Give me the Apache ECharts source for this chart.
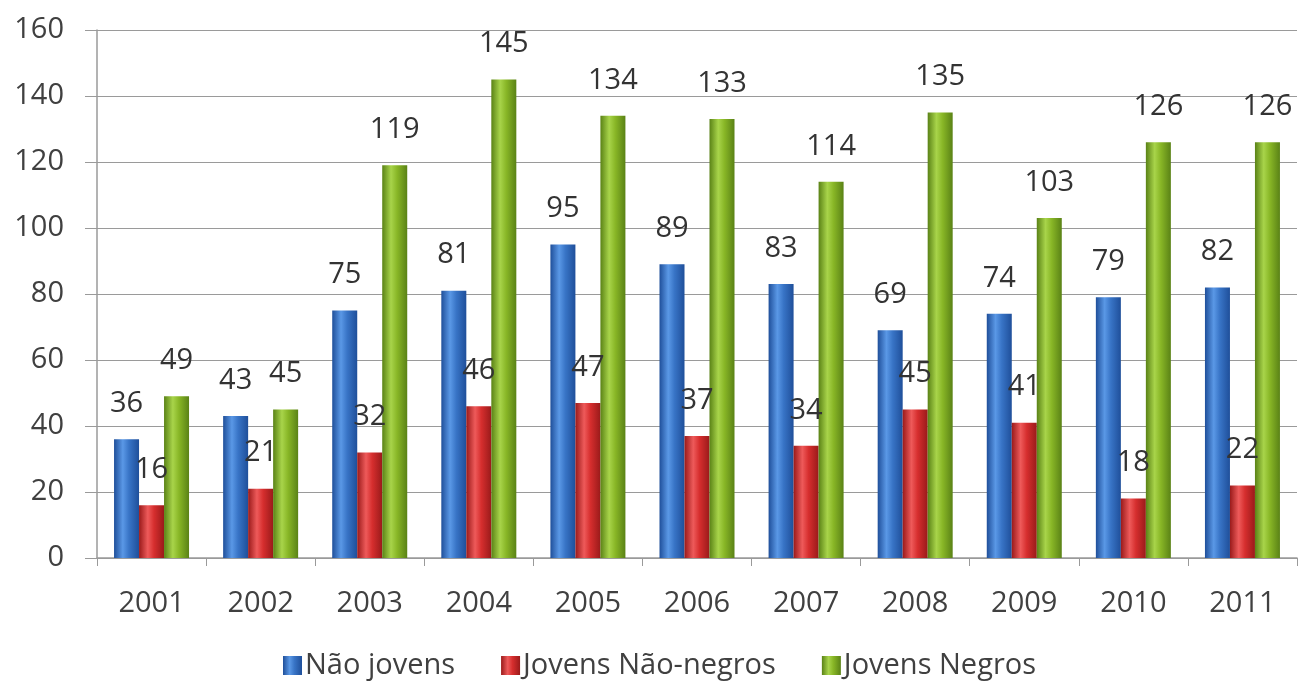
<!DOCTYPE html>
<html><head><meta charset="utf-8">
<script src="https://cdn.jsdelivr.net/npm/echarts@6/dist/echarts.min.js"></script>
<style>html,body{margin:0;padding:0;background:#fff}#c{width:1301px;height:687px}</style>
</head><body><div id="c"></div>
<script>
const categories = ['2001','2002','2003','2004','2005','2006','2007','2008','2009','2010','2011'];
const naoJovens = [36,43,75,81,95,89,83,69,74,79,82];
const jovensNaoNegros = [16,21,32,46,47,37,34,45,41,18,22];
const jovensNegros = [49,45,119,145,134,133,114,135,103,126,126];
const yTicks = {min:0, max:160, interval:20};

function grad(dark, mid, light){
  return new echarts.graphic.LinearGradient(0,0,1,0,[
    {offset:0,color:dark},{offset:0.35,color:light},{offset:0.6,color:mid},{offset:1,color:dark}]);
}
const font = 'Open Sans, Liberation Sans, sans-serif';
const lbl = {show:true, position:'top', distance:21, fontSize:29, color:'#333', fontFamily:font};
function ser(name, data, g){
  return {name, type:'bar', data, barWidth:25, barGap:'0%', label:lbl,
    itemStyle:{color:g}, emphasis:{disabled:true}};
}
const chart = echarts.init(document.getElementById('c'));
chart.setOption({
  animation:false,
  color:['#3874c6','#d62e2e','#88b626'],
  grid:{left:97, right:4, top:30, bottom:129},
  legend:{bottom:2, left:278, itemWidth:19, itemHeight:19, itemGap:46,
    icon:'rect', textStyle:{fontSize:29, color:'#404040', fontFamily:font, padding:[0,0,0,-2]}},
  xAxis:{type:'category', data:categories,
    axisLine:{lineStyle:{color:'#9a9a9a', width:1.5}},
    axisTick:{show:true, length:8, lineStyle:{color:'#9a9a9a'}},
    axisLabel:{fontSize:29, color:'#404040', margin:31, fontFamily:font}},
  yAxis:{type:'value', min:yTicks.min, max:yTicks.max, interval:yTicks.interval,
    axisLine:{show:true, lineStyle:{color:'#9a9a9a', width:1.5}},
    axisTick:{show:true, length:12, inside:false, lineStyle:{color:'#9a9a9a'}},
    splitLine:{lineStyle:{color:'#9a9a9a', width:1.2}},
    axisLabel:{fontSize:29, color:'#404040', margin:33, fontFamily:font}},
  series:[
    ser('Não jovens', naoJovens, grad('#1f4f9a','#3874c6','#5a98e6')),
    ser('Jovens Não-negros', jovensNaoNegros, grad('#9a1a1a','#d62e2e','#ee5a5a')),
    ser('Jovens Negros', jovensNegros, grad('#5a8216','#88b626','#a8d44a'))
  ]
});
</script></body></html>
